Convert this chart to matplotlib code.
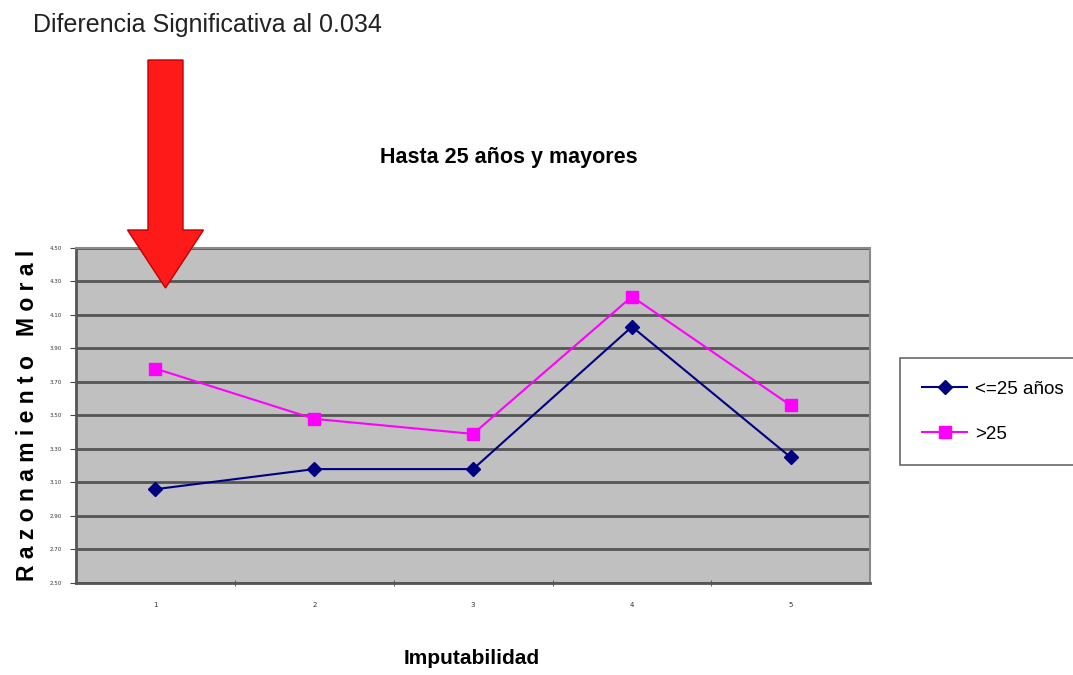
import matplotlib
matplotlib.use('Agg')
import matplotlib.pyplot as plt
from matplotlib.patches import FancyArrow
from matplotlib.ticker import FixedLocator, NullFormatter

categories = [1, 2, 3, 4, 5]
hasta_25 = [3.06, 3.18, 3.18, 4.03, 3.25]
mayores_25 = [3.78, 3.48, 3.39, 4.21, 3.56]
y_ticks = [2.50, 2.70, 2.90, 3.10, 3.30, 3.50, 3.70, 3.90, 4.10, 4.30, 4.50]
series_names = ['<=25 años', '>25']

arial = ['Liberation Sans', 'DejaVu Sans']

fig = plt.figure(figsize=(10.73, 6.75), dpi=100)
ax = fig.add_axes([0.0708, 0.1363, 0.7402, 0.4963])
ax.set_facecolor('#c0c0c0')

ax.plot(categories, hasta_25, color='#000080', marker='D', markersize=7,
        linewidth=1.5, label=series_names[0], zorder=3)
ax.plot(categories, mayores_25, color='#ff00ff', marker='s', markersize=9,
        linewidth=1.5, label=series_names[1], zorder=3)

ax.set_xlim(0.5, 5.5)
ax.set_ylim(y_ticks[0], y_ticks[-1])
ax.set_yticks(y_ticks)
ax.set_yticklabels(['%.2f' % v for v in y_ticks], fontsize=4, color='#333333')
ax.set_xticks(categories)
ax.set_xticklabels([str(c) for c in categories], fontsize=5, color='#333333')
ax.tick_params(axis='x', length=0, pad=14)
ax.xaxis.set_minor_locator(FixedLocator([1.5, 2.5, 3.5, 4.5]))
ax.xaxis.set_minor_formatter(NullFormatter())
ax.tick_params(axis='x', which='minor', length=4, direction='inout', color='#444444')
ax.tick_params(axis='y', length=4, direction='out', color='#444444', pad=6)

ax.grid(axis='y', color='#555555', linewidth=2)
ax.set_axisbelow(True)
for side in ['left', 'bottom']:
    ax.spines[side].set_color('#555555')
    ax.spines[side].set_linewidth(2)
for side in ['top', 'right']:
    ax.spines[side].set_color('#8a8a8a')
    ax.spines[side].set_linewidth(1.5)

ax.set_ylabel('R a z o n a m i e n t o   M o r a l', fontsize=16.5,
              fontweight='bold', family=arial)
ax.yaxis.set_label_coords(-0.046, 0.5)
fig.text(0.440, 0.025, 'Imputabilidad', fontsize=15, fontweight='bold',
         family=arial, ha='center', va='center')

fig.text(0.474, 0.767, 'Hasta 25 años y mayores', fontsize=15.5,
         fontweight='bold', family=arial, ha='center', va='center')
fig.text(0.031, 0.963, 'Diferencia Significativa al 0.034', fontsize=18,
         family=arial, ha='left', va='center', color='#222222')

arrow = FancyArrow(1.655, 6.15, 0, -2.28, width=0.35, head_width=0.76,
                   head_length=0.58, length_includes_head=True,
                   facecolor='#ff1a1a', edgecolor='#c00000', linewidth=1,
                   transform=fig.dpi_scale_trans, zorder=10)
fig.patches.append(arrow)

leg = ax.legend(loc='center left', bbox_to_anchor=(0.830, 0.39),
                bbox_transform=fig.transFigure, frameon=True, fancybox=False,
                prop={'family': arial, 'size': 13.5}, handlelength=2.4,
                handletextpad=0.4, labelspacing=1.5, borderpad=1.2)
leg.get_frame().set_edgecolor('#444444')
leg.get_frame().set_linewidth(1.2)

fig.savefig('out.png', dpi=100)
